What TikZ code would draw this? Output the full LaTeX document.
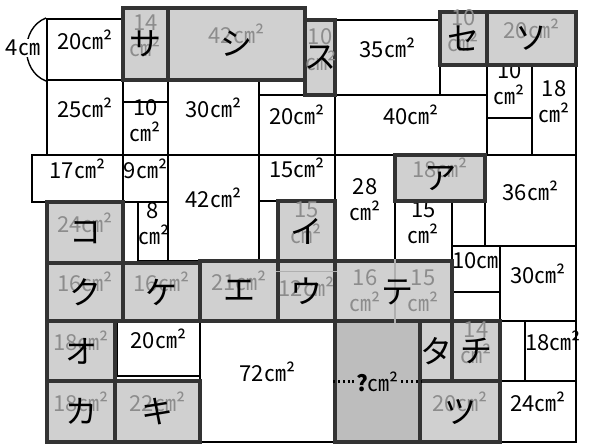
\documentclass[tikz,border=0pt]{standalone}
\usepackage{fontspec}
\setmainfont{Noto Sans CJK JP}
\usetikzlibrary{fit}
\definecolor{cellgray}{HTML}{D0D0D0}
\definecolor{askgray}{HTML}{BDBDBD}
\definecolor{numgray}{HTML}{8C8C8C}
\definecolor{rimgray}{HTML}{333333}
\begin{document}
\begin{tikzpicture}[
    x=0.5pt, y=-0.5pt,
    wcell/.style={draw, line width=1pt, fill=white, inner sep=0pt, align=center, font=\fontsize{11}{13}\selectfont},
    gcell/.style={draw=rimgray, line width=1.8pt, fill=cellgray, inner sep=0pt, align=center, text=numgray, font=\fontsize{11}{13}\selectfont},
    kana/.style={text=black, inner sep=0pt, font=\fontsize{16}{16}\selectfont},
    num/.style={text=numgray, inner sep=0pt, align=center, font=\fontsize{11}{13}\selectfont},
    faint/.style={draw=numgray!70, line width=0.6pt},
    dotline/.style={line width=1.2pt, dash pattern=on 1pt off 1.4pt}
]
\useasboundingbox (0,0) rectangle (590,444);
% white cells
\node[wcell, fit={(47,19) (123,80)}] (w20a) {20㎝²};
\node[wcell, fit={(47,80) (123,155)}] (w25) {25㎝²};
\node[wcell, fit={(123,102) (168,155)}] (w10a) {10\\㎝²};
\node[wcell, fit={(168,80) (259,155)}] (w30a) {30㎝²};
\node[wcell, fit={(259,95) (335,155)}] (w20b) {20㎝²};
\node[wcell, fit={(335,20) (440,95)}] (w35) {35㎝²};
\node[wcell, fit={(335,95) (487,155)}] (w40) {40㎝²};
\node[wcell, fit={(487,65) (532,118)}] (w10b) {10\\㎝²};
\node[wcell, fit={(532,65) (576,155)}] (w18a) {18\\㎝²};
\node[wcell, fit={(32,155) (123,202)}] (w17) {17㎝²};
\node[wcell, fit={(123,155) (168,202)}] (w9) {9㎝²};
\node[wcell, fit={(138,202) (168,261)}] (w8) {8\\㎝²};
\node[wcell, fit={(168,155) (259,261)}] (w42) {42㎝²};
\node[wcell, fit={(259,155) (335,201)}] (w15a) {15㎝²};
\node[wcell, fit={(335,155) (395,261)}] (w28) {28\\㎝²};
\node[wcell, fit={(395,201) (452,261)}] (w15b) {15\\㎝²};
\node[wcell, fit={(485,155) (576,246)}] (w36) {36㎝²};
\node[wcell, fit={(452,246) (500,292)}] (w10c) {10㎝²};
\node[wcell, fit={(500,246) (576,321)}] (w30b) {30㎝²};
\node[wcell, fit={(117,321) (200,376)}] (w20c) {20㎝²};
\node[wcell, fit={(200,321) (335,442)}] (w72) {72㎝²};
\node[wcell, fit={(525,321) (576,381)}] (w18b) {18㎝²};
\node[wcell, fit={(500,381) (576,442)}] (w24) {24㎝²};
% grey cells
\node[gcell, fit={(123,8) (168,80)}, label={[kana]center:サ}] (sa) {14\\㎝²};
\node[gcell, fit={(168,8) (305,80)}, label={[kana]center:シ}] (shi) {42㎝²};
\node[gcell, fit={(305,20) (335,95)}, label={[kana]center:ス}] (su) {10\\㎝²};
\node[gcell, fit={(440,12) (487,65)}, label={[kana]center:セ}] (se) {10\\㎝²};
\node[gcell, fit={(487,12) (576,65)}, label={[kana]center:ソ}] (so) {20㎝²};
\node[gcell, fit={(47,202) (123,263)}, label={[kana]center:コ}] (ko) {24㎝²};
\node[gcell, fit={(47,263) (123,321)}, label={[kana]center:ク}] (ku) {16㎝²};
\node[gcell, fit={(123,263) (200,321)}, label={[kana]center:ケ}] (ke) {16㎝²};
\node[gcell, fit={(200,261) (278,321)}, label={[kana]center:エ}] (e) {21㎝²};
\node[gcell, fit={(278,261) (335,321)}] (u) {};
\node[gcell, fit={(278,201) (335,261)}, label={[kana]center:イ}] (i) {15\\㎝²};
\node[gcell, fit={(395,155) (485,201)}, label={[kana]center:ア}] (a) {18㎝²};
\node[gcell, fit={(335,261) (452,321)}] (te) {};
\node[gcell, fit={(47,321) (115,381)}, label={[kana]center:オ}] (o) {18㎝²};
\node[gcell, fit={(47,381) (115,442)}, label={[kana]center:カ}] (ka) {18㎝²};
\node[gcell, fit={(115,381) (200,442)}, label={[kana]center:キ}] (ki) {22㎝²};
\node[gcell, fill=askgray, fit={(335,321) (420,442)}] (q) {};
\node[gcell, fit={(420,321) (452,381)}, label={[kana]center:タ}] (ta) {};
\node[gcell, fit={(452,321) (500,381)}, label={[kana]center:チ}] (chi) {14\\㎝²};
\node[gcell, fit={(420,381) (500,442)}, label={[kana]center:ツ}] (tsu) {20㎝²};
% split lines inside the grey cells
\draw[faint] ([yshift=-6pt]u.north west) -- ([yshift=-6pt]u.north east);
\node[num] (u12) at ([yshift=2pt]u.center) {12㎝²};
\node[kana] (uk) at (u.center) {ウ};
\draw[faint] ([xshift=0.75pt]te.north) -- ([xshift=0.75pt]te.south);
\node[num] (te16) at (365,291) {16\\㎝²};
\node[num] (te15) at (423,291) {15\\㎝²};
\node[kana] (tek) at (397,292) {テ};
% the unknown cell
\node[text=black, inner sep=1pt, fill=askgray, font=\fontsize{11}{13}\selectfont] (qt) at (q.center) {\textbf{?}㎝²};
\draw[dotline] (q.west) -- (qt.west);
\draw[dotline] (qt.east) -- (q.east);
% length mark
\draw[line width=0.7pt] (w20a.north west) .. controls +(-26,10) and +(-26,-10) .. (w20a.south west);
\node[fill=white, inner sep=0.5pt, font=\fontsize{11}{13}\selectfont] (len) at (23,48) {4㎝};
\end{tikzpicture}
\end{document}
